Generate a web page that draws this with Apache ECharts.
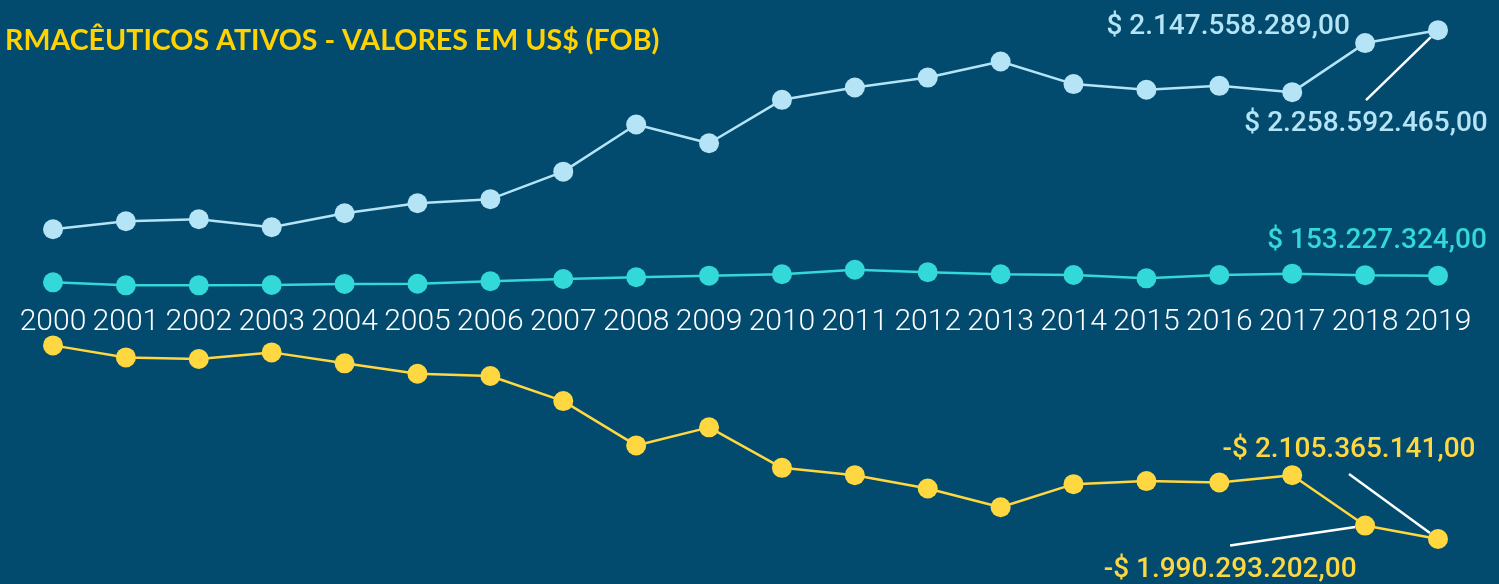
<!DOCTYPE html>
<html>
<head>
<meta charset="utf-8">
<script src="https://cdn.jsdelivr.net/npm/echarts@6/dist/echarts.min.js"></script>
<style>
  html, body { margin: 0; padding: 0; background: #024b6f; }
  #main { width: 1499px; height: 584px; }
</style>
</head>
<body>
<div id="main"></div>
<script>
// valores em milhões de US$ (FOB)
const anos = ['2000', '2001', '2002', '2003', '2004', '2005', '2006', '2007', '2008', '2009',
  '2010', '2011', '2012', '2013', '2014', '2015', '2016', '2017', '2018', '2019'];
const importacoes = [551, 620, 637, 568, 688, 774, 809, 1045, 1449, 1289,
  1661, 1767, 1852, 1990, 1796, 1747, 1781, 1727, 2147.558289, 2258.592465];
const exportacoes = [96, 70, 70, 73, 82, 84, 105, 124, 139, 153,
  165, 204, 182, 165, 159, 130, 159, 170, 157.265087, 153.227324];
const saldo = [-445, -548, -562, -505, -599, -688, -708, -923, -1303, -1148,
  -1495, -1558, -1672, -1833, -1635, -1609, -1621, -1558, -1990.293202, -2105.365141];

// quais pontos recebem rótulo: indice -> [dx, dy, linha guia, padding lateral]
const rotulosImp = { 18: [-137, -16, false, 0], 19: [-72, 94, true, 40] };
const rotulosExp = { 19: [-61, -35, false, 0] };
const rotulosSaldo = { 18: [-135, 44, true, 150], 19: [-89, -89, true, 70] };

function moeda(v) {
  const n = Math.round(v * 1e6);
  const s = String(Math.abs(n)).replace(/\B(?=(\d{3})+(?!\d))/g, '.');
  return (n < 0 ? '-$ ' : '$ ') + s + ',00';
}

function montaDados(valores, rotulos) {
  return valores.map((v, i) => {
    const r = rotulos[i];
    if (!r) return v;
    return {
      value: v,
      // fundo transparente so para a caixa do rotulo contar o padding (linha guia)
      label: { show: true, padding: [10, r[3], 10, r[3]], backgroundColor: 'rgba(0,0,0,0)' },
      labelLine: { show: r[2] }
    };
  });
}

function serie(nome, valores, rotulos, cor) {
  return {
    name: nome,
    type: 'line',
    data: montaDados(valores, rotulos),
    symbol: 'circle',
    symbolSize: 20,
    lineStyle: { color: cor, width: 2.5 },
    itemStyle: { color: cor },
    label: {
      show: false,
      position: 'inside',
      color: cor,
      fontFamily: 'Roboto',
      fontWeight: 500,
      fontSize: 28,
      formatter: (p) => moeda(p.value)
    },
    labelLine: { show: false, lineStyle: { color: '#ffffff', width: 2.5 } },
    labelLayout: (p) => {
      const o = rotulos[p.dataIndex];
      return o ? { dx: o[0], dy: o[1] } : {};
    },
    emphasis: { disabled: true }
  };
}

const myChart = echarts.init(document.getElementById('main'));
const option = {
  backgroundColor: '#024b6f',
  animation: false,
  title: {
    text: 'RMACÊUTICOS ATIVOS - VALORES EM US$ (FOB)',
    left: 0,
    top: 21,
    textStyle: { color: '#ffd200', fontFamily: 'Lato', fontWeight: 'bold', fontSize: 28.6 }
  },
  grid: { left: 53, right: 61, top: 2, height: 583, outerBoundsMode: 'none' },
  xAxis: {
    type: 'category',
    data: anos,
    boundaryGap: false,
    position: 'bottom',
    // eixo levado ate a linha do zero (meio do grid)
    offset: -291.5,
    axisLine: { show: false, onZero: false },
    axisTick: { show: false },
    axisLabel: { color: '#ffffff', fontFamily: 'Roboto', fontWeight: 300, fontSize: 30, margin: 14, interval: 0 }
  },
  yAxis: {
    type: 'value',
    min: -2500,
    max: 2500,
    axisLine: { show: false },
    axisTick: { show: false },
    axisLabel: { show: false },
    splitLine: { show: false }
  },
  series: [
    serie('Importações', importacoes, rotulosImp, '#b4e4f5'),
    serie('Exportações', exportacoes, rotulosExp, '#33d8d8'),
    serie('Saldo', saldo, rotulosSaldo, '#ffd740')
  ]
};
myChart.setOption(option);
</script>
</body>
</html>
